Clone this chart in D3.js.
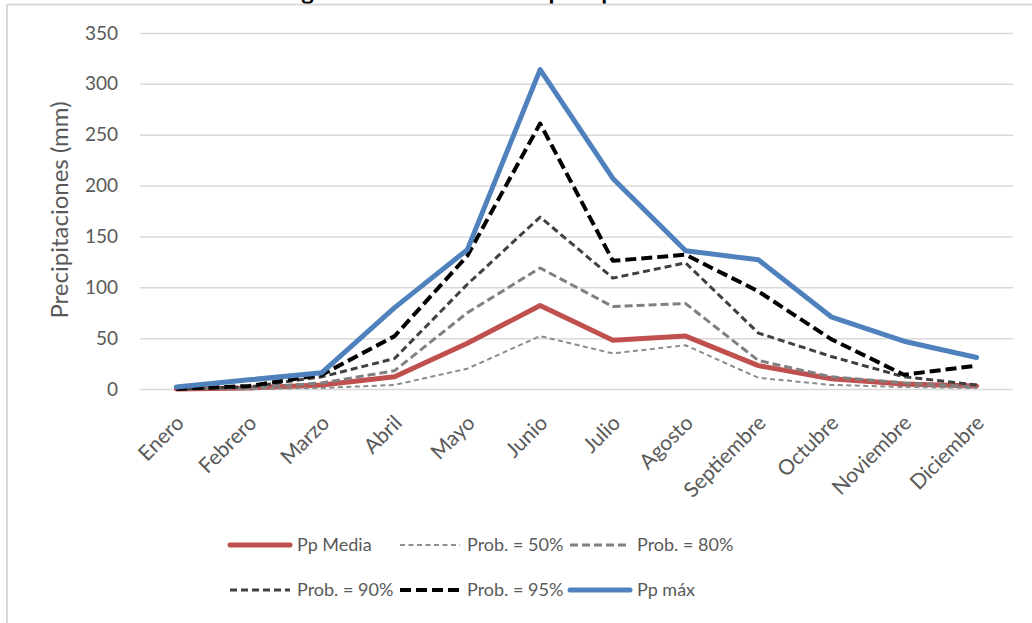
<!DOCTYPE html>
<html lang="es">
<head>
<meta charset="utf-8">
<title>Distribución de precipitaciones</title>
<script src="https://cdn.jsdelivr.net/npm/d3@7"></script>
<style>
  html, body { margin: 0; padding: 0; background: #fff; }
  svg { display: block; font-family: Lato, "Open Sans", sans-serif; }
</style>
</head>
<body>
<svg id="chart" width="1032" height="623"></svg>
<script>
// Meses y precipitaciones mensuales (mm)
const meses = ["Enero", "Febrero", "Marzo", "Abril", "Mayo", "Junio",
  "Julio", "Agosto", "Septiembre", "Octubre", "Noviembre", "Diciembre"];
const ppMedia = [0, 1, 4, 12, 45, 82, 48, 52, 23, 10, 5, 3];
const prob50  = [0, 0, 1, 4, 20, 52, 35, 43, 11, 4, 2, 1];
const prob80  = [0, 1, 6, 18, 75, 119, 81, 84, 28, 12, 6, 2];
const prob90  = [0, 2, 12, 30, 103, 169, 109, 124, 55, 32, 12, 4];
const prob95  = [0, 3, 14, 52, 131, 261, 126, 132, 96, 49, 14, 23];
const ppMax   = [2, 9, 16, 80, 137, 314, 207, 136, 127, 71, 47, 31];
const yTicks  = [0, 50, 100, 150, 200, 250, 300, 350];

const series = [
  { name: "Pp Media",    values: ppMedia, color: "#c0504d", width: 5,   dash: null },
  { name: "Prob. = 50%", values: prob50,  color: "#8c8c8c", width: 2,   dash: "5 3.5" },
  { name: "Prob. = 80%", values: prob80,  color: "#808080", width: 3,   dash: "8 4" },
  { name: "Prob. = 90%", values: prob90,  color: "#404040", width: 3,   dash: "7 4" },
  { name: "Prob. = 95%", values: prob95,  color: "#000000", width: 4,   dash: "11 5" },
  { name: "Pp máx",      values: ppMax,   color: "#4f81bd", width: 5,   dash: null }
];

const svg = d3.select("#chart");
const W = 1032, H = 623;
const plot = { left: 140, right: 1013, top: 33, bottom: 389 };

svg.append("rect").attr("width", W).attr("height", H).attr("fill", "#fff");

// Título (parcialmente fuera del marco superior)
svg.append("text")
  .attr("x", 496).attr("y", 0)
  .attr("text-anchor", "middle")
  .attr("font-size", 24).attr("font-weight", "bold")
  .attr("fill", "#000")
  .text("Figura 4. Distribución de precipitaciones");

// Marco del gráfico
svg.append("line").attr("x1", 7).attr("x2", W).attr("y1", 4.5).attr("y2", 4.5)
  .attr("stroke", "#d9d9d9").attr("stroke-width", 2);
svg.append("line").attr("x1", 7).attr("x2", 7).attr("y1", 4.5).attr("y2", H)
  .attr("stroke", "#d9d9d9").attr("stroke-width", 2);

const x = d3.scalePoint().domain(meses).range([plot.left, plot.right]).padding(0.5);
const y = d3.scaleLinear().domain([0, 350]).range([plot.bottom, plot.top]);

// Líneas de cuadrícula y etiquetas del eje Y
const yAxis = d3.axisLeft(y).tickValues(yTicks)
  .tickSize(-(plot.right - plot.left)).tickPadding(22);
const gy = svg.append("g").attr("transform", `translate(${plot.left},0)`).call(yAxis);
gy.select(".domain").remove();
gy.selectAll(".tick line").attr("stroke", "#d9d9d9").attr("stroke-width", 1.5);
gy.selectAll(".tick text").attr("fill", "#595959").attr("font-size", 19)
  .attr("font-family", "Lato, sans-serif");

// Etiquetas del eje X (rotadas)
const xAxis = d3.axisBottom(x).tickSize(0).tickPadding(0);
const gx = svg.append("g").attr("transform", `translate(0,${plot.bottom})`).call(xAxis);
gx.select(".domain").remove();
gx.selectAll(".tick text")
  .attr("fill", "#595959").attr("font-size", 21).attr("font-family", "Lato, sans-serif")
  .attr("text-anchor", "end")
  .attr("y", 0).attr("dy", "0.35em")
  .attr("transform", "translate(3,30) rotate(-45)");

// Título del eje Y
svg.append("text")
  .attr("transform", `translate(60,210) rotate(-90)`)
  .attr("text-anchor", "middle").attr("dy", "0.35em")
  .attr("font-size", 24).attr("fill", "#595959")
  .text("Precipitaciones (mm)");

// Series
const line = d3.line().x((d, i) => x(meses[i])).y(d => y(d));
svg.append("g").selectAll("path").data(series).join("path")
  .attr("d", s => line(s.values))
  .attr("fill", "none")
  .attr("stroke", s => s.color)
  .attr("stroke-width", s => s.width)
  .attr("stroke-dasharray", s => s.dash)
  .attr("stroke-linejoin", "round")
  .attr("stroke-linecap", s => s.dash ? "butt" : "round");

// Leyenda
const legendCols = [230, 400, 570];
const legendRows = [545, 590];
const lg = svg.append("g").selectAll("g").data(series).join("g")
  .attr("transform", (s, i) => `translate(${legendCols[i % 3]},${legendRows[Math.floor(i / 3)]})`);
lg.append("line")
  .attr("x1", 0).attr("x2", 60).attr("y1", 0).attr("y2", 0)
  .attr("stroke", s => s.color)
  .attr("stroke-width", s => s.width)
  .attr("stroke-dasharray", s => s.dash)
  .attr("stroke-linecap", s => s.dash ? "butt" : "round");
lg.append("text")
  .attr("x", 67).attr("dy", "0.35em")
  .attr("font-size", 18).attr("fill", "#595959")
  .text(s => s.name);
</script>
</body>
</html>
